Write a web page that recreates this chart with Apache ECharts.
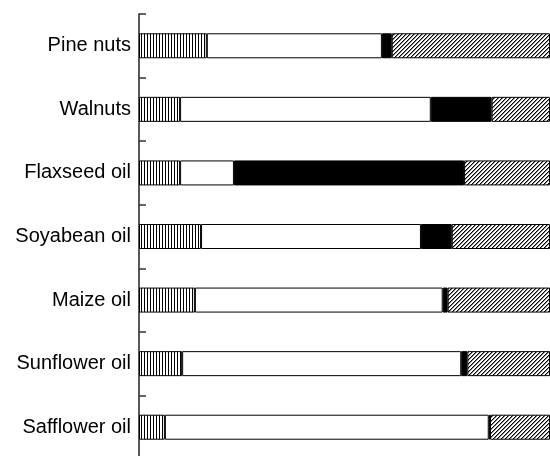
<!DOCTYPE html>
<html lang="en">
<head>
    <meta charset="UTF-8">
    <title>Fatty acid composition</title>
    <script src="https://cdn.jsdelivr.net/npm/echarts@6.0.0/dist/echarts.min.js"></script>
    <style>
        body { margin: 0; background: #fff; }
        #chart { width: 550px; height: 456px; }
    </style>
</head>
<body>
    <div id="chart"></div>
    <script>
        // categories, top to bottom
        const categories = ['Pine nuts', 'Walnuts', 'Flaxseed oil', 'Soyabean oil', 'Maize oil', 'Sunflower oil', 'Safflower oil'];
        // percentages
        const saturated = [16.5, 10, 10, 15.1, 13.6, 10.5, 6.3];
        const linoleic = [42.6, 61, 13.1, 53.5, 60.3, 67.9, 78.8];
        const alphaLinolenic = [2.4, 14.8, 56, 7.5, 1.2, 1.5, 0.3];
        const monounsaturated = [38.5, 14.2, 20.9, 23.9, 24.9, 20.1, 14.6];

        // hatch patterns
        function verticalHatch() {
            const c = document.createElement('canvas');
            c.width = 3; c.height = 4;
            const ctx = c.getContext('2d');
            ctx.fillStyle = '#fff';
            ctx.fillRect(0, 0, 3, 4);
            ctx.fillStyle = '#000';
            ctx.fillRect(0, 0, 1, 4);
            return c;
        }
        function diagonalHatch() {
            const c = document.createElement('canvas');
            c.width = 4; c.height = 4;
            const ctx = c.getContext('2d');
            ctx.fillStyle = '#fff';
            ctx.fillRect(0, 0, 4, 4);
            for (let i = 0; i < 4; i++) {
                ctx.fillStyle = '#000';
                ctx.fillRect(3 - i, i, 1, 1);
                ctx.fillStyle = '#888';
                ctx.fillRect((4 - i) % 4, i, 1, 1);
            }
            return c;
        }

        const chart = echarts.init(document.getElementById('chart'), null, { renderer: 'canvas' });

        function seg(name, data, color) {
            return {
                name: name,
                type: 'bar',
                stack: 'total',
                barWidth: 25,
                data: data,
                itemStyle: { color: color, borderColor: '#000', borderWidth: 1 },
                emphasis: { disabled: true }
            };
        }

        chart.setOption({
            animation: false,
            grid: { left: 139, right: 0, top: 14, height: 445, outerBoundsMode: 'none' },
            xAxis: { type: 'value', min: 0, max: 100, show: false },
            yAxis: {
                type: 'category',
                data: categories,
                inverse: true,
                axisLine: { show: true, lineStyle: { color: '#222', width: 1.5 } },
                axisTick: { show: true, inside: true, length: 7, lineStyle: { color: '#333', width: 1.5 } },
                axisLabel: { color: '#000', fontSize: 20, fontFamily: 'Liberation Sans, Arial, sans-serif', margin: 8 },
                splitLine: { show: false }
            },
            series: [
                seg('Saturated', saturated, { image: verticalHatch(), repeat: 'repeat' }),
                seg('Linoleic', linoleic, '#fff'),
                seg('alpha-Linolenic', alphaLinolenic, '#000'),
                seg('Monounsaturated', monounsaturated, { image: diagonalHatch(), repeat: 'repeat' })
            ]
        });
    </script>
</body>
</html>
